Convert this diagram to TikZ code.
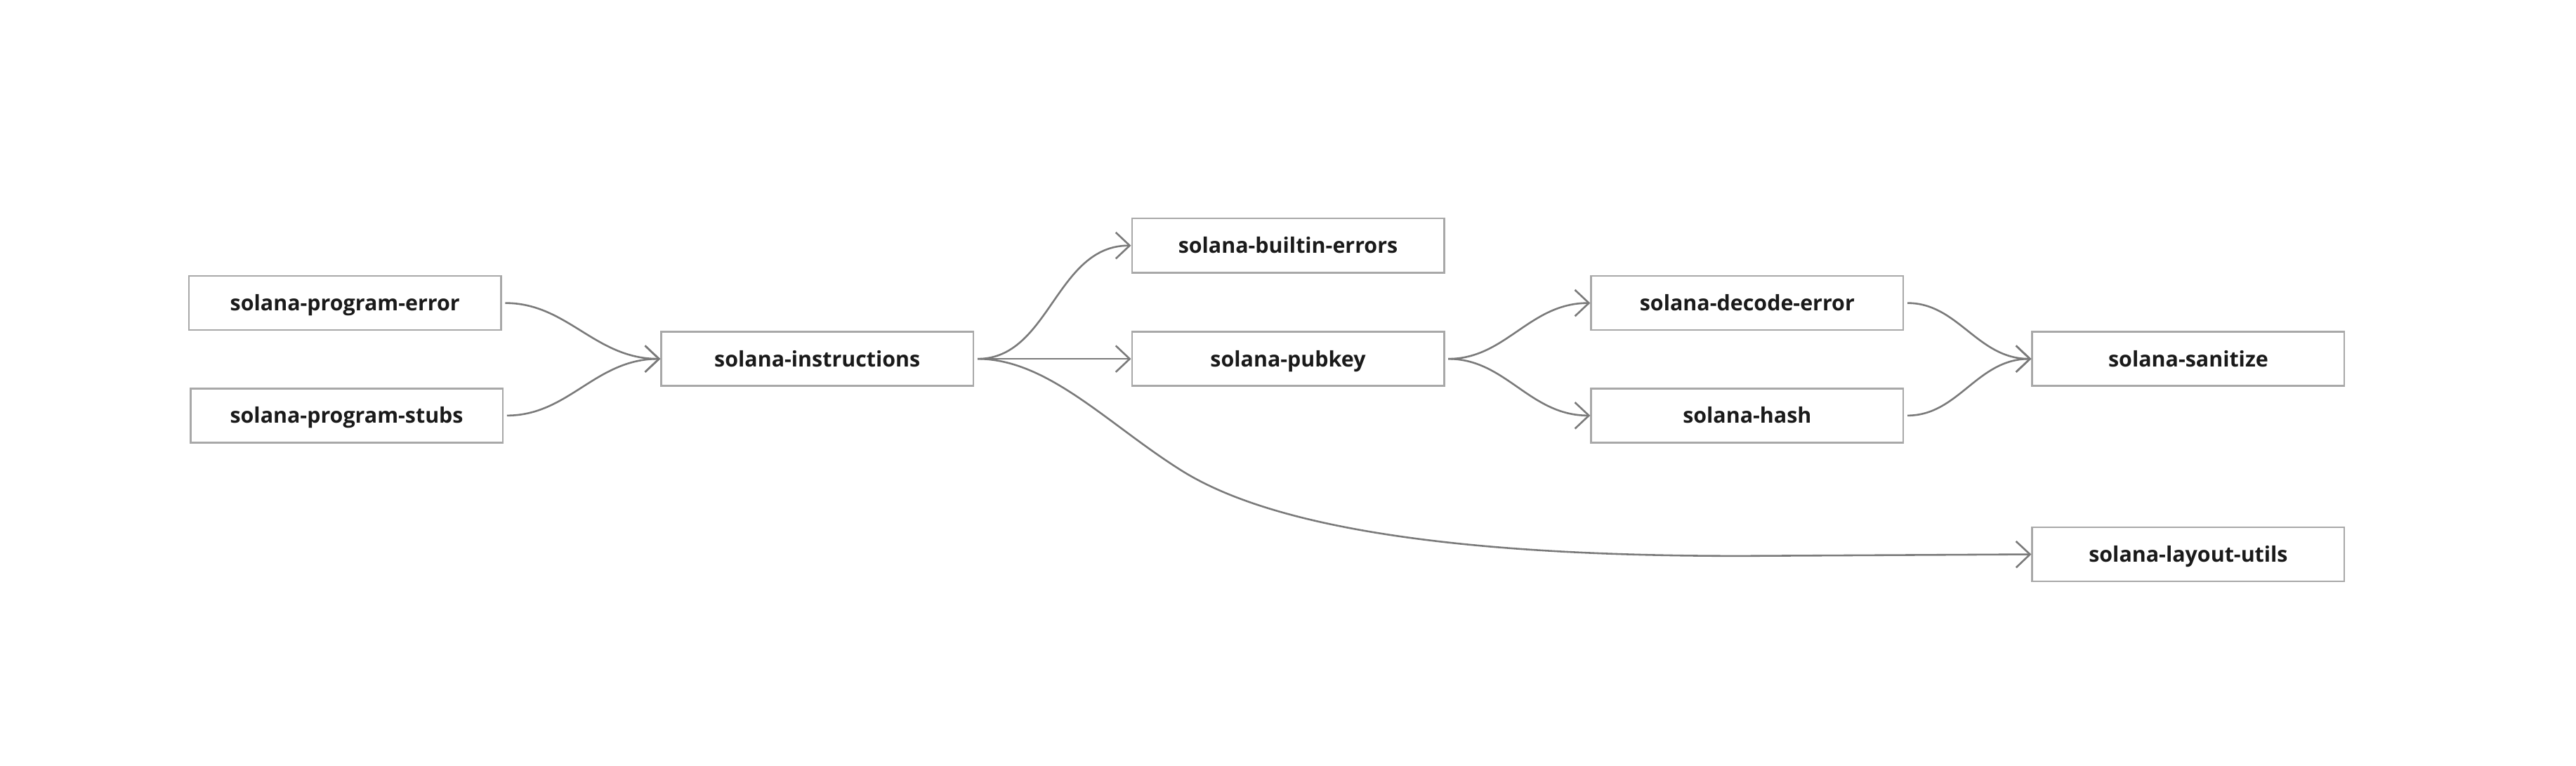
\documentclass[tikz,border=0pt]{standalone}
\usepackage{fontspec}
\setmainfont{Open Sans}
\usepackage{xcolor}
\usepackage{tikz}
\usetikzlibrary{arrows.meta,positioning}
\definecolor{boxgray}{HTML}{A8A8A8}
\definecolor{edgegray}{HTML}{7A7A7A}
\definecolor{textdark}{HTML}{1A1A1A}
\tikzstyle{arrow} = [draw=edgegray, line width=1.1pt, -{Straight Barb[length=8.5pt,width=16pt]}, shorten <=2pt]

\begin{document}
\begin{tikzpicture}[x=1pt,y=-1pt]
    \tikzstyle{crate}=[draw=boxgray, line width=1.1pt, rectangle, minimum width=190pt, minimum height=33pt, inner sep=0pt, text height=9.5pt, text depth=0pt, text=textdark, font=\fontsize{13}{15}\selectfont\bfseries]

    \useasboundingbox (0,0) rectangle (1568,466);

    \node[crate] (progerr) at (210,184.5) {solana-program-error};
    \node[crate] (progstubs) at (211,253) {solana-program-stubs};
    \node[crate] (instr) at (497.5,218.5) {solana-instructions};
    \node[crate] (builtin) at (784,149.5) {solana-builtin-errors};
    \node[crate] (pubkey) at (784,218.5) {solana-pubkey};
    \node[crate] (decode) at (1063.5,184.5) {solana-decode-error};
    \node[crate] (hash) at (1063.5,253) {solana-hash};
    \node[crate] (sanitize) at (1332,218.5) {solana-sanitize};
    \node[crate] (layout) at (1332,337.5) {solana-layout-utils};

    \draw[arrow] (progerr.east) to[out=0,in=180] (instr.west);
    \draw[arrow] (progstubs.east) to[out=0,in=180] (instr.west);
    \draw[arrow] (instr.east) to[out=0,in=180] (builtin.west);
    \draw[arrow] (instr.east) -- (pubkey.west);
    \draw[arrow] (pubkey.east) to[out=0,in=180] (decode.west);
    \draw[arrow] (pubkey.east) to[out=0,in=180] (hash.west);
    \draw[arrow] (decode.east) to[out=0,in=180] (sanitize.west);
    \draw[arrow] (hash.east) to[out=0,in=180] (sanitize.west);

    % long edge down to layout-utils
    \coordinate (bend) at (720,287);
    \coordinate (flat) at (1060,338.5);
    \draw[arrow] (instr.east) .. controls +(45,0) and +(-45,-28) .. (bend)
        .. controls +(60,37) and +(-160,0) .. (flat) -- (layout.west);
\end{tikzpicture}
\end{document}
